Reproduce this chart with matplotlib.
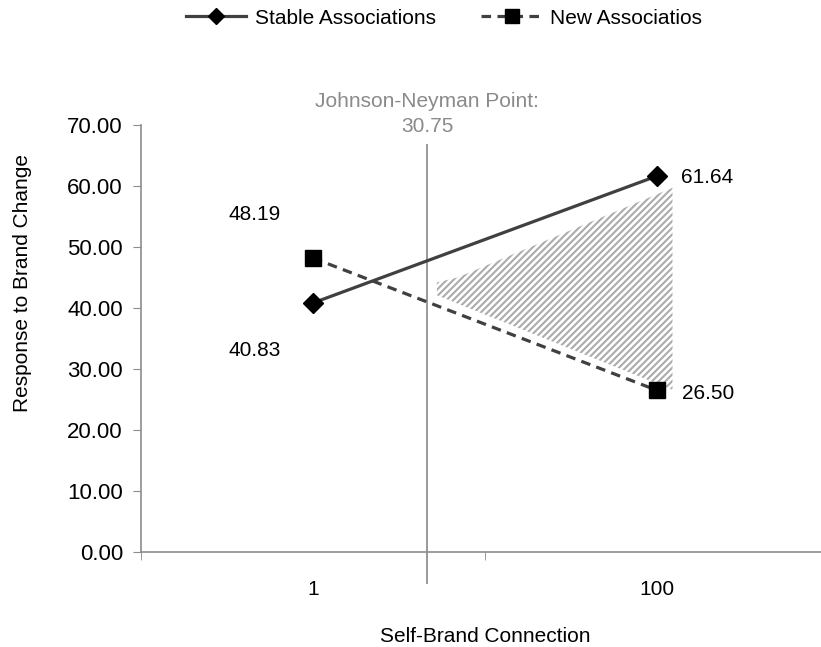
import numpy as np
import matplotlib.pyplot as plt

plt.rcParams['font.family'] = ['Liberation Sans', 'DejaVu Sans']
plt.rcParams['hatch.linewidth'] = 1.5

categories = ['1', '100']
stable = [40.83, 61.64]
new = [48.19, 26.50]
series_names = ['Stable Associations', 'New Associatios']

jn_value = 30.75
jn_pos = 0.332          # where the J-N line sits on the category axis
jn_span = [-5.1, 66.7]

# hatched region of significance (category-axis x, value y)
region_x = [0.36, 0.36, 0.42, 1.045, 1.045]
region_y = [42.1, 44.2, 45.0, 59.7, 26.6]

axis_grey = '#8c8c8c'
line_grey = '#404040'

fig = plt.figure(figsize=(8.21, 6.47), dpi=100)
ax = fig.add_axes([141 / 821, 1 - 552 / 647, 688 / 821, 427 / 647])

x = np.arange(len(categories))

ax.fill(region_x, region_y, facecolor='none', edgecolor='#ababab',
        linewidth=0, hatch='/////', zorder=1)

ax.plot([jn_pos, jn_pos], jn_span, color='#9a9a9a', lw=1.4,
        clip_on=False, zorder=2)

ax.plot(x, stable, color=line_grey, lw=2.3, marker='D', markersize=10,
        markerfacecolor='black', markeredgecolor='black',
        label=series_names[0], zorder=3)
ax.plot(x, new, color=line_grey, lw=2.3, dashes=(3, 2), marker='s',
        markersize=12, markerfacecolor='black', markeredgecolor='black',
        label=series_names[1], zorder=3)

# data labels
ax.annotate(f'{stable[0]:.2f}', (x[0], stable[0]), xytext=(-42, -34),
            textcoords='offset points', ha='center', va='center', fontsize=15)
ax.annotate(f'{new[0]:.2f}', (x[0], new[0]), xytext=(-42, 31),
            textcoords='offset points', ha='center', va='center', fontsize=15)
ax.annotate(f'{stable[1]:.2f}', (x[1], stable[1]), xytext=(17, -1),
            textcoords='offset points', ha='left', va='center', fontsize=15)
ax.annotate(f'{new[1]:.2f}', (x[1], new[1]), xytext=(18, -2),
            textcoords='offset points', ha='left', va='center', fontsize=15)

ax.text(jn_pos, 73.8, 'Johnson-Neyman Point:', ha='center', va='center',
        fontsize=15, color='#8a8a8a')
ax.text(jn_pos, 69.8, f'{jn_value:.2f}', ha='center', va='center',
        fontsize=15, color='#8a8a8a')

ax.set_xlim(-0.5, 1.5)
ax.set_ylim(0, 70)
ax.set_yticks(np.arange(0, 71, 10))
ax.set_yticklabels([f'{v:.2f}' for v in np.arange(0, 71, 10)])
ax.set_xticks(x)
ax.set_xticklabels(categories)
ax.set_xticks([-0.5, 0.5, 1.5], minor=True)
ax.tick_params(axis='x', which='major', length=0, pad=20, labelsize=15)
ax.tick_params(axis='x', which='minor', length=6, color=axis_grey)
ax.tick_params(axis='y', length=6, color=axis_grey, labelsize=16, pad=7)

for side in ['top', 'right']:
    ax.spines[side].set_visible(False)
for side in ['left', 'bottom']:
    ax.spines[side].set_color(axis_grey)
    ax.spines[side].set_linewidth(1.2)

ax.set_xlabel('Self-Brand Connection', fontsize=15, va='center')
ax.xaxis.set_label_coords(0.5, -84 / 427)
ax.set_ylabel('Response to Brand Change', fontsize=15)
ax.yaxis.set_label_coords(-0.159, 0.63)

fig.legend(loc='center', bbox_to_anchor=(444 / 821, 1 - 18 / 647), ncol=2,
           frameon=False, fontsize=15, handlelength=2.9, handletextpad=0.4,
           columnspacing=2.2, markerscale=0.8)

fig.savefig('out.png', dpi=100)
